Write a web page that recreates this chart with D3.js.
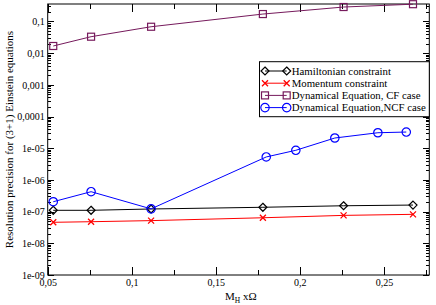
<!DOCTYPE html>
<html lang="en">
<head>
  <meta charset="UTF-8">
  <title>resolution precision</title>
  <style>
    body { margin: 0; background: #fff; }
    text { font-family: "Liberation Serif", "DejaVu Serif", serif; }
  </style>
</head>
<body>
  <script src="https://cdn.jsdelivr.net/npm/d3@7"></script>
  <script type="text/javascript">
    // data
    var xConstraint = [0.0533, 0.0758, 0.1115, 0.178, 0.226, 0.2673];
    var hamiltonian = [1.1e-7, 1.1e-7, 1.21e-7, 1.37e-7, 1.53e-7, 1.61e-7];
    var momentum = [4.6e-8, 4.8e-8, 5.2e-8, 6.4e-8, 7.6e-8, 8.2e-8];
    var cfCase = [0.0168, 0.033, 0.068, 0.171, 0.285, 0.35];
    var xNcf = [0.0533, 0.0758, 0.1115, 0.180, 0.1976, 0.2208, 0.2464, 0.2633];
    var ncfCase = [2.05e-7, 4.25e-7, 1.22e-7, 5.3e-6, 8.6e-6, 2.1e-5, 3.08e-5, 3.24e-5];

    var xTicks = [0.05, 0.1, 0.15, 0.2, 0.25];
    var xTickLabels = ["0,05", "0,1", "0,15", "0,2", "0,25"];
    var yTicks = [1e-9, 1e-8, 1e-7, 1e-6, 1e-5, 1e-4, 1e-3, 1e-2, 1e-1];
    var yTickLabels = ["1e-09", "1e-08", "1e-07", "1e-06", "1e-05", "0,0001", "0,001", "0,01", "0,1"];
    var seriesNames = ["Hamiltonian constraint", "Momentum constraint",
                       "Dynamical Equation, CF case", "Dynamical Equation,NCF case"];

    var width = 436, height = 305;
    var pad = {left: 47.7, right: 429.3, top: 4, bottom: 275};

    var svg = d3.select("body").append("svg")
      .attr("width", width)
      .attr("height", height);

    var x = d3.scaleLinear().domain([0.05, 0.277]).range([pad.left, pad.right]);
    var y = d3.scaleLog().domain([1e-9, 0.355]).range([pad.bottom, pad.top]);

    // minor ticks
    var xMinor = [0.075, 0.125, 0.175, 0.225, 0.275];
    var yMinor = [];
    for (var e = -9; e <= -1; e++) {
      for (var m = 2; m <= 9; m++) {
        var v = m * Math.pow(10, e);
        if (v < 0.355) yMinor.push(v);
      }
    }

    function noLabel() { return ""; }

    // bottom axis
    svg.append("g").attr("transform", "translate(0," + pad.bottom + ")")
      .call(d3.axisBottom(x).tickValues(xMinor).tickSizeInner(-5).tickSizeOuter(0).tickFormat(noLabel));
    svg.append("g").attr("transform", "translate(0," + pad.bottom + ")")
      .call(d3.axisBottom(x).tickValues(xTicks).tickSizeInner(-8).tickSizeOuter(0).tickPadding(4)
        .tickFormat(function(d, i){ return xTickLabels[i]; }));
    // top axis
    svg.append("g").attr("transform", "translate(0," + pad.top + ")")
      .call(d3.axisTop(x).tickValues(xMinor).tickSizeInner(-5).tickSizeOuter(0).tickFormat(noLabel));
    svg.append("g").attr("transform", "translate(0," + pad.top + ")")
      .call(d3.axisTop(x).tickValues(xTicks).tickSizeInner(-8).tickSizeOuter(0).tickFormat(noLabel));
    // left axis
    svg.append("g").attr("transform", "translate(" + pad.left + ",0)")
      .call(d3.axisLeft(y).tickValues(yMinor).tickSizeInner(-3.5).tickSizeOuter(0).tickFormat(noLabel));
    svg.append("g").attr("transform", "translate(" + pad.left + ",0)")
      .call(d3.axisLeft(y).tickValues(yTicks).tickSizeInner(-6.5).tickSizeOuter(0).tickPadding(3)
        .tickFormat(function(d, i){ return yTickLabels[i]; }));
    // right axis
    svg.append("g").attr("transform", "translate(" + pad.right + ",0)")
      .call(d3.axisRight(y).tickValues(yMinor).tickSizeInner(-3.5).tickSizeOuter(0).tickFormat(noLabel));
    svg.append("g").attr("transform", "translate(" + pad.right + ",0)")
      .call(d3.axisRight(y).tickValues(yTicks).tickSizeInner(-6.5).tickSizeOuter(0).tickFormat(noLabel));

    svg.selectAll(".domain").remove();
    svg.selectAll(".tick line").attr("stroke", "#000").attr("shape-rendering", "crispEdges");
    svg.selectAll(".tick text").attr("fill", "#000").attr("font-size", "10px")
      .attr("font-family", "Liberation Serif, serif");

    // frame
    svg.append("rect")
      .attr("x", pad.left).attr("y", pad.top)
      .attr("width", pad.right - pad.left).attr("height", pad.bottom - pad.top)
      .attr("fill", "none").attr("stroke", "#000").attr("stroke-width", 1);

    // markers
    function marker(g, type, color) {
      if (type === "diamond") {
        g.append("path").attr("d", "M0,-4L4,0L0,4L-4,0Z")
          .attr("fill", "none").attr("stroke", color).attr("stroke-width", 1.2);
      } else if (type === "cross") {
        g.append("path").attr("d", "M-3,-3L3,3M-3,3L3,-3")
          .attr("fill", "none").attr("stroke", color).attr("stroke-width", 1.3);
      } else if (type === "square") {
        g.append("rect").attr("x", -3.5).attr("y", -3.5).attr("width", 7).attr("height", 7)
          .attr("fill", "none").attr("stroke", color).attr("stroke-width", 1.2);
      } else {
        g.append("circle").attr("r", 4.2)
          .attr("fill", "none").attr("stroke", color).attr("stroke-width", 1.2);
      }
    }

    var series = [
      { name: seriesNames[0], xs: xConstraint, ys: hamiltonian, color: "#000000", type: "diamond" },
      { name: seriesNames[1], xs: xConstraint, ys: momentum, color: "#ff0000", type: "cross" },
      { name: seriesNames[2], xs: xConstraint, ys: cfCase, color: "#761a5c", type: "square" },
      { name: seriesNames[3], xs: xNcf, ys: ncfCase, color: "#0000ff", type: "circle" }
    ];

    var line = d3.line()
      .x(function(d){ return x(d[0]); })
      .y(function(d){ return y(d[1]); });

    series.forEach(function(s) {
      var pts = s.xs.map(function(d, i){ return [d, s.ys[i]]; });
      svg.append("path")
        .attr("d", line(pts))
        .attr("fill", "none")
        .attr("stroke", s.color)
        .attr("stroke-width", 1);
      pts.forEach(function(p) {
        var g = svg.append("g").attr("transform", "translate(" + x(p[0]) + "," + y(p[1]) + ")");
        marker(g, s.type, s.color);
      });
    });

    // legend
    var legend = svg.append("g");
    legend.append("rect")
      .attr("x", 259.5).attr("y", 61.7)
      .attr("width", pad.right - 259.5).attr("height", 55)
      .attr("fill", "#fff").attr("stroke", "#000").attr("stroke-width", 1);
    series.forEach(function(s, i) {
      var cy = 71 + i * 12.2;
      legend.append("line")
        .attr("x1", 265).attr("x2", 286.7).attr("y1", cy).attr("y2", cy)
        .attr("stroke", s.color).attr("stroke-width", 1);
      marker(legend.append("g").attr("transform", "translate(265," + cy + ")"), s.type, s.color);
      marker(legend.append("g").attr("transform", "translate(286.7," + cy + ")"), s.type, s.color);
      legend.append("text")
        .attr("x", 291.7).attr("y", cy + 3.8)
        .attr("font-size", "10.8px")
        .attr("fill", "#000")
        .text(s.name);
    });

    // axis titles
    svg.append("text")
      .attr("transform", "translate(13," + ((pad.top + pad.bottom) / 2) + ") rotate(-90)")
      .attr("text-anchor", "middle")
      .attr("font-size", "11px")
      .text("Resolution precision for (3+1) Einstein equations");

    var xt = svg.append("text").attr("x", 225).attr("y", 300).attr("font-size", "11px");
    xt.append("tspan").text("M");
    xt.append("tspan").attr("font-size", "7.5px").attr("dy", 3).text("H");
    xt.append("tspan").attr("x", 243).attr("dy", -3).text("xΩ");
  </script>
</body>
</html>
